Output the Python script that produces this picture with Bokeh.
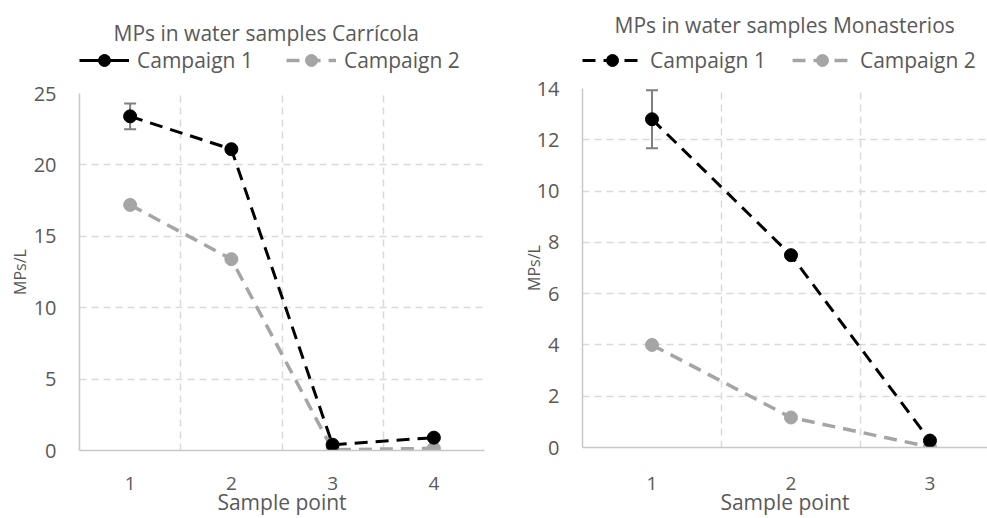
from bokeh.plotting import figure
from bokeh.models import (ColumnDataSource, FixedTicker, Legend, LegendItem,
                          Whisker, TeeHead, Range1d)
from bokeh.layouts import row, column
from bokeh.embed import file_html
from bokeh.resources import INLINE

# ---- data ----
left_title = "MPs in water samples Carrícola"
left_points = [1, 2, 3, 4]
left_c1 = [23.4, 21.1, 0.4, 0.9]
left_c1_err = [0.9, 0.0, 0.0, 0.0]
left_c2 = [17.2, 13.4, 0.05, 0.15]
left_yticks = [0, 5, 10, 15, 20, 25]

right_title = "MPs in water samples Monasterios"
right_points = [1, 2, 3]
right_c1 = [12.8, 7.5, 0.27]
right_c1_err = [1.13, 0.0, 0.0]
right_c2 = [4.0, 1.17, 0.02]
right_yticks = [0, 2, 4, 6, 8, 10, 12, 14]

series_names = ["Campaign 1", "Campaign 2"]
xlabel = "Sample point"
ylabel = "MPs/L"

FONT = "Open Sans"
TXT = "#595959"
C1 = "#000000"
C2 = "#a5a5a5"
GRID = "#d9d9d9"
AXIS = "#c8c8c8"
DASH = "13 8"


def make_header(title, pts, c1, c2, width, height, top, title_off,
                leg_y, glyph_w, spacing, solid_legend):
    h = figure(width=width, height=height, output_backend="svg",
               toolbar_location=None, title=title,
               x_axis_type=None, y_axis_type=None,
               x_range=Range1d(0, 1), y_range=Range1d(0, 1),
               min_border_left=0, min_border_right=0,
               min_border_top=top, min_border_bottom=0)
    h.grid.visible = False
    h.outline_line_color = None
    h.title.align = "left"
    h.title.offset = title_off
    h.title.standoff = 0
    h.title.text_font = FONT
    h.title.text_font_size = "21px"
    h.title.text_font_style = "normal"
    h.title.text_color = TXT

    src = ColumnDataSource(dict(x=pts, c1=c1, c2=c2))
    if solid_legend:
        d1 = h.line("x", "c1", source=src, line_color=C1, line_width=3,
                    visible=False)
    else:
        d1 = h.line("x", "c1", source=src, line_color=C1, line_width=3,
                    line_dash=DASH, visible=False)
    s1 = h.scatter("x", "c1", source=src, size=12, fill_color=C1,
                   line_color=C1, visible=False)
    d2 = h.line("x", "c2", source=src, line_color=C2, line_width=3.5,
                line_dash=DASH, visible=False)
    s2 = h.scatter("x", "c2", source=src, size=12, fill_color=C2,
                   line_color=C2, visible=False)
    legend = Legend(items=[LegendItem(label=series_names[0], renderers=[d1, s1]),
                           LegendItem(label=series_names[1], renderers=[d2, s2])],
                    orientation="horizontal", location=(0, leg_y),
                    label_text_font=FONT, label_text_font_size="21px",
                    label_text_color=TXT, glyph_width=glyph_w, glyph_height=30,
                    spacing=spacing, padding=0, margin=0,
                    border_line_color=None, background_fill_alpha=0,
                    label_standoff=8, click_policy="none")
    h.add_layout(legend)
    return h


def make_main(pts, c1, err, c2, yticks, width, height, xend, bl, br, bt,
              xstand, ylab_stand):
    p = figure(width=width, height=height, output_backend="svg",
               toolbar_location=None, title=None,
               x_range=Range1d(0.5, xend),
               y_range=Range1d(yticks[0], yticks[-1]),
               min_border_left=bl, min_border_right=br,
               min_border_top=bt, min_border_bottom=0)
    p.outline_line_color = None

    for ax in (p.xaxis[0], p.yaxis[0]):
        ax.major_label_text_font = FONT
        ax.major_label_text_color = TXT
        ax.axis_label_text_font = FONT
        ax.axis_label_text_color = TXT
        ax.axis_label_text_font_style = "normal"
        ax.major_tick_line_color = None
        ax.minor_tick_line_color = None
        ax.major_tick_out = 0
        ax.major_tick_in = 0
        ax.minor_tick_out = 0
        ax.axis_line_color = AXIS
        ax.axis_line_width = 1.5
    p.xaxis.ticker = FixedTicker(ticks=pts)
    p.yaxis.ticker = FixedTicker(ticks=yticks)
    p.xaxis.major_label_text_font_size = "19px"
    p.yaxis.major_label_text_font_size = "20px"
    p.xaxis.axis_label = xlabel
    p.yaxis.axis_label = ylabel
    p.xaxis.axis_label_text_font_size = "21px"
    p.yaxis.axis_label_text_font_size = "16px"
    p.xaxis.major_label_standoff = xstand
    p.yaxis.major_label_standoff = 23
    p.xaxis.axis_label_standoff = -5
    p.yaxis.axis_label_standoff = ylab_stand

    p.xgrid.ticker = FixedTicker(ticks=[x + 0.5 for x in pts])
    p.xgrid.grid_line_color = GRID
    p.xgrid.grid_line_dash = "7 5"
    p.xgrid.grid_line_width = 1.5
    p.ygrid.ticker = FixedTicker(ticks=yticks[1:])
    p.ygrid.grid_line_color = GRID
    p.ygrid.grid_line_dash = "7 5"
    p.ygrid.grid_line_width = 1.5

    src = ColumnDataSource(dict(x=pts, c1=c1, c2=c2))
    esrc = ColumnDataSource(dict(
        x=[x for x, e in zip(pts, err) if e > 0],
        lo=[v - e for v, e in zip(c1, err) if e > 0],
        hi=[v + e for v, e in zip(c1, err) if e > 0]))

    p.line("x", "c2", source=src, line_color=C2, line_width=3.5, line_dash=DASH)
    p.scatter("x", "c2", source=src, size=13, fill_color=C2, line_color=C2)
    p.line("x", "c1", source=src, line_color=C1, line_width=3, line_dash=DASH)
    head = dict(size=12, line_color="#7f7f7f", line_width=2)
    wh = Whisker(source=esrc, base="x", lower="lo", upper="hi",
                 line_color="#7f7f7f", line_width=2,
                 upper_head=TeeHead(**head), lower_head=TeeHead(**head))
    p.add_layout(wh)
    p.scatter("x", "c1", source=src, size=13, fill_color=C1, line_color=C1)
    return p


left_head = make_header(left_title, left_points, left_c1, left_c2,
                        494, 80, 46, 34, 5, 50, 33, True)
left_main = make_main(left_points, left_c1, left_c1_err, left_c2, left_yticks,
                      494, 438, 4.5, 79, 10, 13, 26, 0)
right_head = make_header(right_title, right_points, right_c1, right_c2,
                         493, 75, 38, 32, 0, 60, 26, False)
right_main = make_main(right_points, right_c1, right_c1_err, right_c2,
                       right_yticks, 493, 443, 3.414, 88, 0, 13, 29, -11)

layout = row(column(left_head, left_main), column(right_head, right_main))
open("out.html", "w").write(file_html(layout, INLINE))
